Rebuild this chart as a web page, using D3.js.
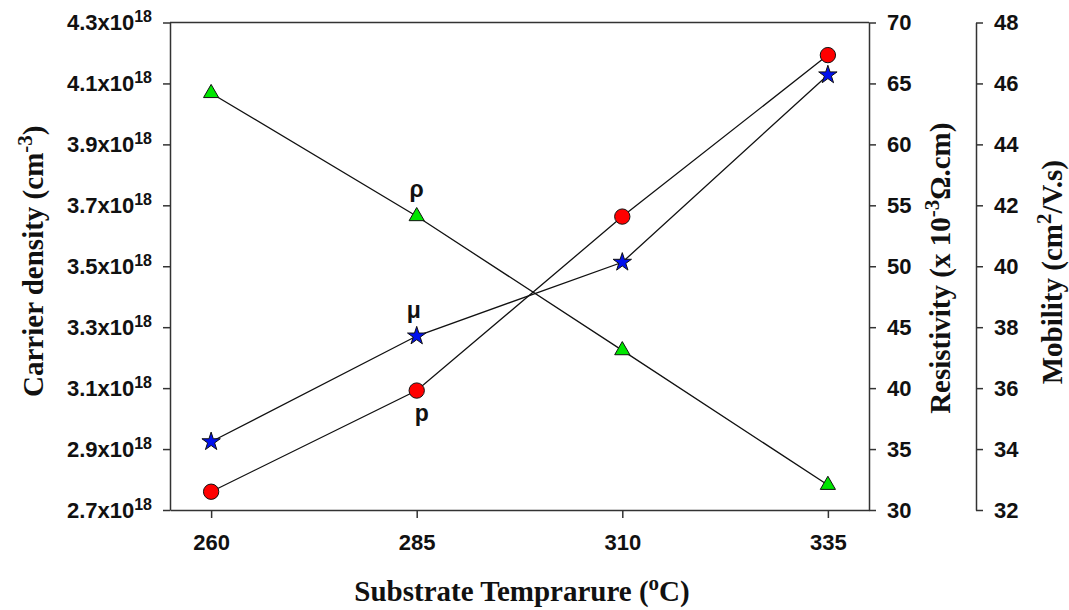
<!DOCTYPE html>
<html>
<head>
<meta charset="utf-8">
<script src="https://cdn.jsdelivr.net/npm/d3@7"></script>
<style>
  body { margin: 0; background: #fff; }
  .tick text { font-family: "Liberation Sans", Arial, sans-serif; font-weight: bold; font-size: 22px; fill: #111; }
  .axis-title { font-family: "Liberation Serif", "Times New Roman", serif; font-weight: bold; font-size: 29px; fill: #111; }
  .lbl { font-family: "Liberation Sans", Arial, sans-serif; font-weight: bold; font-size: 23px; fill: #111; }
</style>
</head>
<body>
<div id="chart"></div>
<script>
const temps = [260, 285, 310, 335];
const carrier = [2.76, 3.092, 3.663, 4.193];      // x10^18 cm^-3
const resistivity = [64.2, 54.1, 43.1, 32.05];    // x10^-3 ohm.cm
const mobility = [34.24, 37.71, 40.13, 46.28];    // cm2/V.s
const carrierTicks = [2.7, 2.9, 3.1, 3.3, 3.5, 3.7, 3.9, 4.1, 4.3];
const resTicks = [30, 35, 40, 45, 50, 55, 60, 65, 70];
const mobTicks = [32, 34, 36, 38, 40, 42, 44, 46, 48];

const W = 1069, H = 610;
const pLeft = 170, pRight = 869, pTop = 22.5, pBottom = 510;
const mobX = 976;
const midY = (pTop + pBottom) / 2;

const svg = d3.select("#chart").append("svg")
    .attr("width", W).attr("height", H);

const x = d3.scaleLinear().domain([255, 340]).range([pLeft, pRight]);
const yC = d3.scaleLinear().domain([2.7, 4.3]).range([pBottom, pTop]);
const yR = d3.scaleLinear().domain([30, 70]).range([pBottom, pTop]);
const yM = d3.scaleLinear().domain([32, 48]).range([pBottom, pTop]);

function styleAxis(g) {
    g.select(".domain").attr("stroke", "#333").attr("stroke-width", 1.5);
    g.selectAll(".tick line").attr("stroke", "#333").attr("stroke-width", 1.5);
}

// top of frame
svg.append("line").attr("x1", pLeft).attr("x2", pRight).attr("y1", pTop).attr("y2", pTop)
    .attr("stroke", "#333").attr("stroke-width", 1.5);

// x axis
const xAxis = svg.append("g").attr("transform", `translate(0,${pBottom})`)
    .call(d3.axisBottom(x).tickValues(temps).tickSize(8).tickPadding(16).tickSizeOuter(0));
styleAxis(xAxis);

// left axis, labels like 4.3x10^18
const yAxisL = svg.append("g").attr("transform", `translate(${pLeft},0)`)
    .call(d3.axisLeft(yC).tickValues(carrierTicks).tickSize(7).tickPadding(11).tickSizeOuter(0)
        .tickFormat(() => ""));
styleAxis(yAxisL);
yAxisL.selectAll(".tick text").each(function (d) {
    const t = d3.select(this);
    t.text(null);
    t.append("tspan").text(d.toFixed(1) + "x10");
    t.append("tspan").attr("dy", -8).style("font-size", "16px").text("18");
});

// resistivity axis
const yAxisR = svg.append("g").attr("transform", `translate(${pRight},0)`)
    .call(d3.axisRight(yR).tickValues(resTicks).tickSize(7).tickPadding(11).tickSizeOuter(0));
styleAxis(yAxisR);

// mobility axis
const yAxisM = svg.append("g").attr("transform", `translate(${mobX},0)`)
    .call(d3.axisRight(yM).tickValues(mobTicks).tickSize(7).tickPadding(11).tickSizeOuter(0));
styleAxis(yAxisM);

// axis titles
const tl = svg.append("text").attr("class", "axis-title")
    .attr("transform", `translate(43,${midY - 5}) rotate(-90)`).attr("text-anchor", "middle");
tl.append("tspan").text("Carrier density (cm");
tl.append("tspan").attr("dy", -11).style("font-size", "21px").text("-3");
tl.append("tspan").attr("dy", 11).text(")");

const tr = svg.append("text").attr("class", "axis-title")
    .attr("transform", `translate(950,${midY + 2}) rotate(-90)`).attr("text-anchor", "middle");
tr.append("tspan").text("Resistivity (x 10");
tr.append("tspan").attr("dy", -11).style("font-size", "21px").text("-3");
tr.append("tspan").attr("dy", 11).text("\u03A9.cm)");

const tm = svg.append("text").attr("class", "axis-title")
    .attr("transform", `translate(1062,${midY + 6}) rotate(-90)`).attr("text-anchor", "middle");
tm.append("tspan").text("Mobility (cm");
tm.append("tspan").attr("dy", -11).style("font-size", "21px").text("2");
tm.append("tspan").attr("dy", 11).text("/V.s)");

const tx = svg.append("text").attr("class", "axis-title")
    .attr("x", 522).attr("y", 601).attr("text-anchor", "middle");
tx.append("tspan").text("Substrate Temprarure (");
tx.append("tspan").attr("dy", -11).style("font-size", "21px").text("o");
tx.append("tspan").attr("dy", 11).text("C)");

// series
const series = [
    { vals: resistivity, y: yR, sym: d3.symbolTriangle, size: 100, fill: "#00e600" },
    { vals: carrier, y: yC, sym: d3.symbolCircle, size: 185, fill: "#ff0000" },
    { vals: mobility, y: yM, sym: d3.symbolStar, size: 105, fill: "#0010ee" }
];

const line = d3.line();
series.forEach(s => {
    const pts = temps.map((t, i) => [x(t), s.y(s.vals[i])]);
    svg.append("path").attr("d", line(pts)).attr("fill", "none")
        .attr("stroke", "#111").attr("stroke-width", 1.3);
});
series.forEach(s => {
    svg.selectAll(null).data(temps).enter().append("path")
        .attr("transform", (t, i) => `translate(${x(t)},${s.y(s.vals[i])})`)
        .attr("d", d3.symbol().type(s.sym).size(s.size))
        .attr("fill", s.fill).attr("stroke", "#111").attr("stroke-width", 1);
});

// series labels
svg.append("text").attr("class", "lbl").attr("x", x(285)).attr("y", yR(resistivity[1]) - 19)
    .attr("text-anchor", "middle").text("\u03C1");
svg.append("text").attr("class", "lbl").attr("x", x(285) - 3).attr("y", yM(mobility[1]) - 18)
    .attr("text-anchor", "middle").text("\u03BC");
svg.append("text").attr("class", "lbl").attr("x", x(285) + 5).attr("y", yC(carrier[1]) + 30)
    .attr("text-anchor", "middle").text("p");
</script>
</body>
</html>
